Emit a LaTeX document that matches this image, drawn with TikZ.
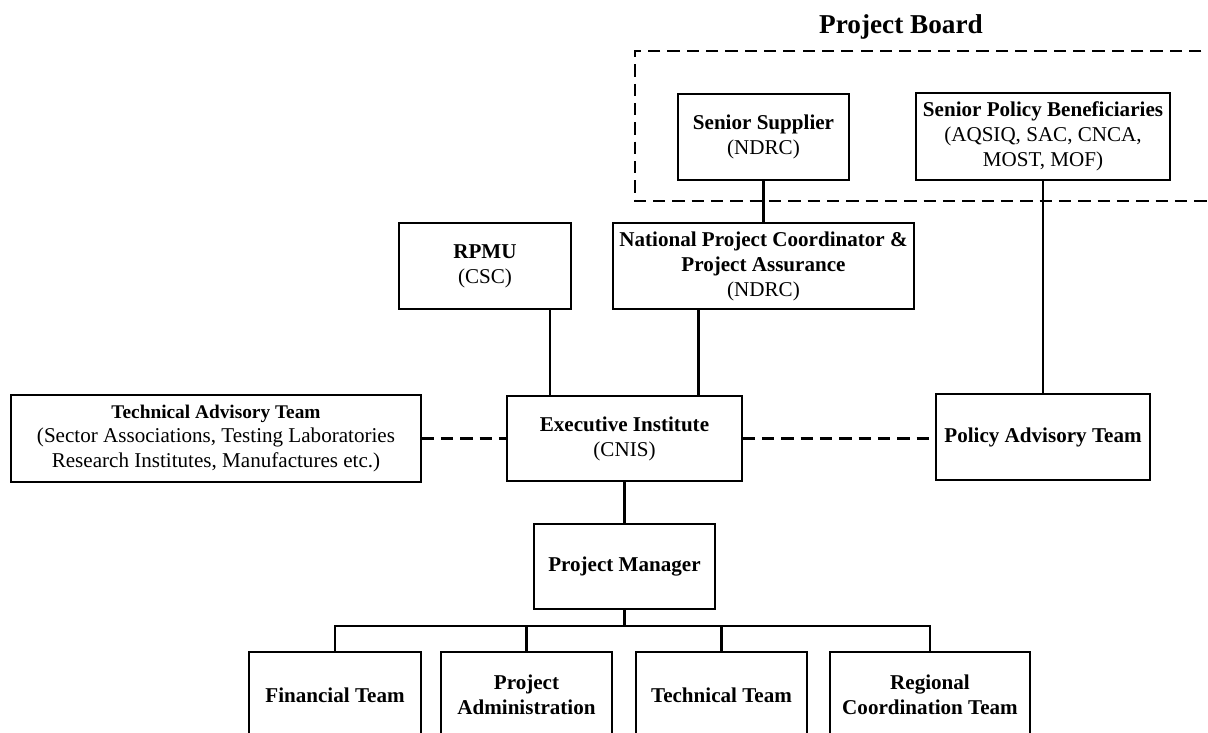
\documentclass[tikz,border=0pt]{standalone}
\usepackage{fontspec}
\setmainfont{Liberation Serif}
\usepackage{tikz}
\usetikzlibrary{calc}

\begin{document}
\begin{tikzpicture}[x=0.02cm,y=-0.02cm,
  box/.style={draw,line width=0.7pt,inner sep=0pt,align=center,
    font=\fontsize{12}{14.2}\selectfont},
  link/.style={line width=1.2pt},
  dashlink/.style={line width=1.2pt,dash pattern=on 7pt off 4pt}]
\useasboundingbox (0,0) rectangle (1208,733);
\clip (0,0) rectangle (1208,733);
% project board
\draw[dashlink] (1240,51)--(635,51)--(635,201)--(1240,201);
\node[font=\fontsize{15.5}{18}\selectfont\bfseries] (board) at (901,27) {Project Board};
\node[box,minimum width=3.42cm,minimum height=1.72cm] (ss) at (763.5,137)
  {\textbf{Senior Supplier}\\(NDRC)};
\node[box,minimum width=5.08cm,minimum height=1.74cm] (spb) at (1043,136.5)
  {\textbf{Senior Policy Beneficiaries}\\(AQSIQ, SAC, CNCA,\\MOST, MOF)};
% middle level
\node[box,minimum width=3.44cm,minimum height=1.72cm] (rpmu) at (485,266)
  {\textbf{RPMU}\\(CSC)};
\node[box,minimum width=6.02cm,minimum height=1.72cm] (npc) at (763.5,266)
  {\textbf{National Project Coordinator \&}\\\textbf{Project Assurance}\\(NDRC)};
\node[box,minimum width=8.2cm,minimum height=1.74cm] (tat) at (216,438.5)
  {{\fontsize{11}{14.2}\selectfont\bfseries Technical Advisory Team}\\(Sector Associations, Testing Laboratories\\Research Institutes, Manufactures etc.)};
\node[box,minimum width=4.7cm,minimum height=1.7cm] (ei) at (624.5,438.5)
  {\textbf{Executive Institute}\\(CNIS)};
\node[box,minimum width=4.28cm,minimum height=1.72cm] (pat) at (1043,437)
  {\textbf{Policy Advisory Team}};
\node[box,minimum width=3.62cm,minimum height=1.7cm] (pm) at (624.5,566.5)
  {\textbf{Project Manager}};
% teams
\node[box,minimum width=3.44cm,minimum height=1.72cm] (ft) at (335,695)
  {\textbf{Financial Team}};
\node[box,minimum width=3.42cm,minimum height=1.72cm] (pa) at (526.5,695)
  {\textbf{Project}\\\textbf{Administration}};
\node[box,minimum width=3.42cm,minimum height=1.72cm] (tt) at (721.5,695)
  {\textbf{Technical Team}};
\node[box,minimum width=4cm,minimum height=1.72cm] (rct) at (930,695)
  {\textbf{Regional}\\\textbf{Coordination Team}};
% connectors
\draw[link] (ss.south)--(npc.north);
\draw[link] (spb.south)--(pat.north);
\draw[link] ([xshift=1.3cm]rpmu.south)--([xshift=1.3cm]rpmu.south |- ei.north);
\draw[link] ([xshift=-1.3cm]npc.south)--([xshift=-1.3cm]npc.south |- ei.north);
\draw[dashlink] (tat.east)--(ei.west);
\draw[dashlink] (ei.east)--(ei.east -| pat.west);
\draw[link] (ei.south)--(pm.north);
\coordinate (bus) at (624.5,626);
\draw[link] (pm.south)--(bus);
\foreach \t in {ft,pa,tt,rct}
  \draw[link] (\t.north) |- (bus);
\end{tikzpicture}
\end{document}
